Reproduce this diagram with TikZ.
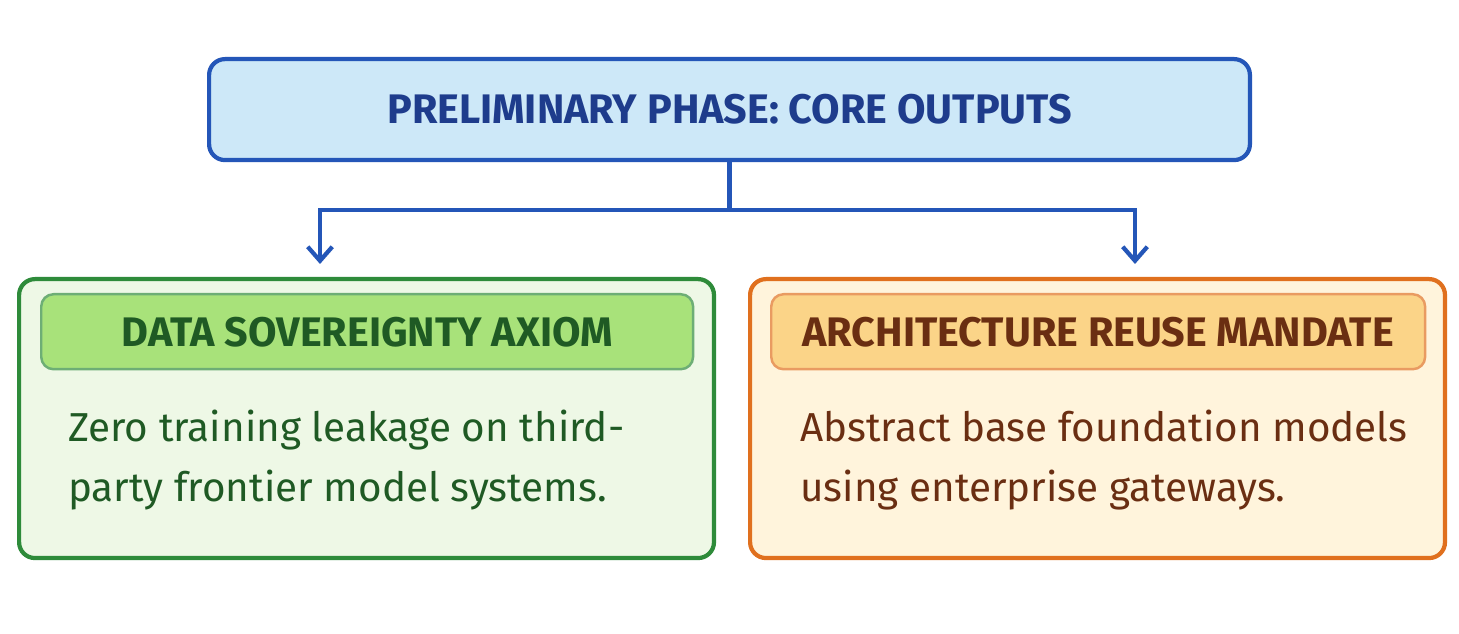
\documentclass[tikz,border=0pt]{standalone}
\usepackage{fontspec}
\setmainfont{Fira Sans}
\usetikzlibrary{arrows.meta,positioning}
\definecolor{navy}{HTML}{1E3C8C}
\definecolor{blueline}{HTML}{2456B8}
\definecolor{bluefill}{HTML}{CDE8F8}
\definecolor{greenline}{HTML}{2E8B3A}
\definecolor{greenfill}{HTML}{EEF8E6}
\definecolor{greenhead}{HTML}{A8E27A}
\definecolor{greentext}{HTML}{1F5A24}
\definecolor{orangeline}{HTML}{E0701E}
\definecolor{orangefill}{HTML}{FFF4DC}
\definecolor{orangehead}{HTML}{FBD488}
\definecolor{browntext}{HTML}{6A2E12}
\tikzset{
	panel/.style={draw, line width=2.4pt, rounded corners=9pt, anchor=north west},
	header/.style={draw, line width=1.4pt, rounded corners=7pt, anchor=north west, inner sep=0pt},
	caps/.style={font=\fontsize{23.5}{28}\selectfont\bfseries},
	body/.style={font=\fontsize{23}{34}\selectfont, align=left, anchor=north west},
	link/.style={line width=2.4pt, draw=blueline},
}
\begin{document}
\begin{tikzpicture}[x=0.02cm, y=-0.02cm]
	\useasboundingbox[fill=white] (0,0) rectangle (1459,634);
	\node [panel, draw=blueline, fill=bluefill, minimum width=20.82cm, minimum height=2.02cm]	(Phase)	at (207,57) {};
	\node [caps, text=navy]	(PhaseTitle)	at (Phase.center) {PRELIMINARY PHASE: CORE OUTPUTS};

	\node [panel, draw=greenline, fill=greenfill, minimum width=13.9cm, minimum height=5.58cm]	(Sovereignty)	at (17,277) {};
	\node [header, draw=greenline!70, fill=greenhead, minimum width=13.04cm, minimum height=1.5cm]	(SovereigntyHead)	at (40,293) {};
	\node [caps, text=greentext]	(SovereigntyTitle)	at (SovereigntyHead.center) {DATA SOVEREIGNTY AXIOM};
	\node [body, text=greentext]	(SovereigntyText)	at (62,404) {Zero training leakage on third-\\party frontier model systems.};

	\node [panel, draw=orangeline, fill=orangefill, minimum width=13.9cm, minimum height=5.58cm]	(Reuse)	at (748,277) {};
	\node [header, draw=orangeline!70, fill=orangehead, minimum width=13.08cm, minimum height=1.5cm]	(ReuseHead)	at (770,293) {};
	\node [caps, text=browntext]	(ReuseTitle)	at (ReuseHead.center) {ARCHITECTURE REUSE MANDATE};
	\node [body, text=browntext]	(ReuseText)	at (794,404) {Abstract base foundation models\\using enterprise gateways.};

	\coordinate (Split) at (Phase.south |- 0,210);
	\draw [link] (Phase.south) -- (Split);
	\draw [link, -{Straight Barb[length=8pt,width=14pt]}] (Split) -| (320,264);
	\draw [link, -{Straight Barb[length=8pt,width=14pt]}] (Split) -| (1135,264);
\end{tikzpicture}
\end{document}
